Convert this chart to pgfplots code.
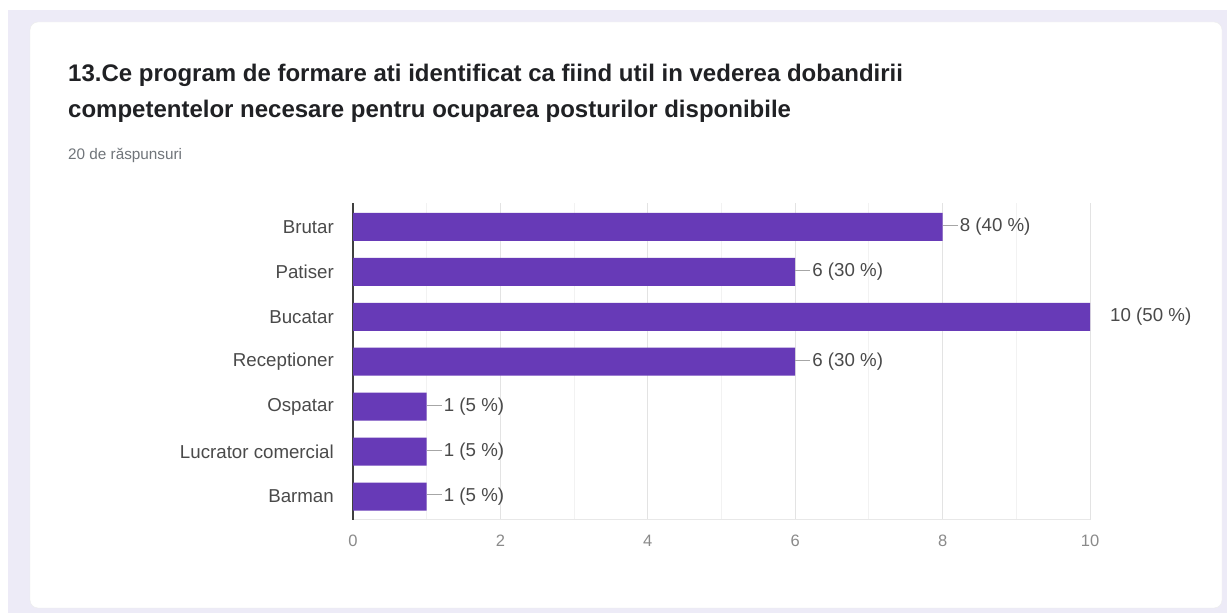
\documentclass[border=0pt]{standalone}
\usepackage{pgfplots}
\pgfplotsset{compat=1.18}
\usepackage{fontspec}
\setmainfont{Liberation Sans}
\definecolor{bgl}{HTML}{EDEBF7}
\definecolor{barp}{HTML}{673AB7}
\definecolor{titc}{HTML}{202124}
\definecolor{subc}{HTML}{70757A}
\definecolor{labc}{HTML}{4A4A4A}
\definecolor{tickc}{HTML}{8A8A8A}
\newcommand\lab[1]{\textcolor{gray!70}{\rule[0.33em]{15pt}{0.8pt}}\hspace{2pt}#1}
\begin{document}
\begin{tikzpicture}[x=1pt,y=1pt]
\fill[white] (0,0) rectangle (1227,613);
\fill[bgl] (8,0) rectangle (1227,603);
\fill[white, draw=gray!15, rounded corners=8pt] (30,5) rectangle (1222,591);
\node[anchor=base west, inner sep=0pt, text=titc, font=\fontsize{24}{28}\selectfont\bfseries] at (68,531) {13.Ce program de formare ati identificat ca fiind util in vederea dobandirii};
\node[anchor=base west, inner sep=0pt, text=titc, font=\fontsize{24}{28}\selectfont\bfseries] at (68,495) {competentelor necesare pentru ocuparea posturilor disponibile};
\node[anchor=base west, inner sep=0pt, text=subc, font=\fontsize{15.3}{18}\selectfont] at (68,453) {20 de răspunsuri};
\begin{axis}[
  at={(353pt,93pt)}, anchor=south west, scale only axis,
  width=737pt, height=317pt,
  xbar, bar width=28pt,
  xmin=0, xmax=10, ymin=-0.52, ymax=6.53,
  xtick={0,2,...,10}, minor xtick={1,3,...,9},
  ytick={0,...,6},
  yticklabels={Barman,Lucrator comercial,Ospatar,Receptioner,Bucatar,Patiser,Brutar},
  xmajorgrids, xminorgrids,
  major grid style={draw=gray!22, line width=1pt},
  minor grid style={draw=gray!10, line width=1pt},
  axis x line*=bottom, axis y line*=left,
  x axis line style={-, draw=gray!18, line width=1pt},
  y axis line style={-, draw=black!75, line width=1.4pt},
  major tick length=0pt, minor tick length=0pt,
  tick style={draw=none},
  xticklabel style={inner sep=0pt, yshift=-15pt, text=tickc, font=\fontsize{16.5}{18}\selectfont},
  yticklabel style={inner sep=0pt, xshift=-19pt, text=labc, font=\fontsize{18.7}{20}\selectfont},
  /pgf/number format/assume math mode=true,
  point meta=explicit symbolic,
  nodes near coords={\pgfplotspointmeta},
  every node near coord/.append style={anchor=west, inner sep=0pt, text=labc, font=\fontsize{18.7}{20}\selectfont},
]
\addplot[fill=barp, draw=none] coordinates {
 (1,0) [\lab{1 (5 \%)}]
 (1,1) [\lab{1 (5 \%)}]
 (1,2) [\lab{1 (5 \%)}]
 (6,3) [\lab{6 (30 \%)}]
 (10,4) [\hspace*{20pt}10 (50 \%)]
 (6,5) [\lab{6 (30 \%)}]
 (8,6) [\lab{8 (40 \%)}]
};
\end{axis}
\end{tikzpicture}
\end{document}
